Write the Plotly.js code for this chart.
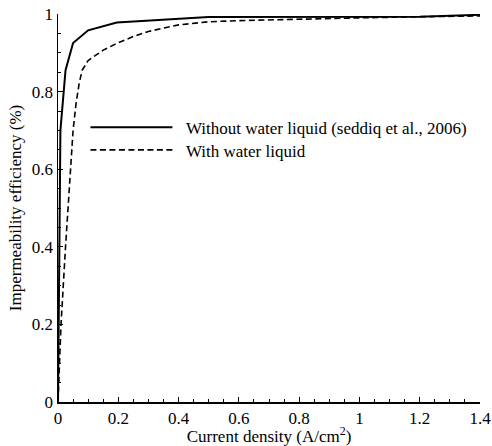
<!DOCTYPE html>
<html>
<head>
<meta charset="utf-8">
<script src="https://cdn.plot.ly/plotly-3.0.1.min.js"></script>
<style>html,body{margin:0;padding:0;background:#fff;}#chart{width:492px;height:446px;}</style>
</head>
<body>
<div id="chart"></div>
<script>
var seriesNames = ["Without water liquid (seddiq et al., 2006)", "With water liquid"];
var xWithout = [0, 0.008, 0.025, 0.05, 0.1, 0.195, 0.5, 1.2, 1.4];
var yWithout = [0, 0.70, 0.855, 0.925, 0.958, 0.978, 0.992, 0.993, 0.998];
var xWith = [0, 0.01, 0.025, 0.04, 0.05, 0.06, 0.07, 0.08, 0.1, 0.15, 0.2, 0.25, 0.3, 0.4, 0.5, 0.6, 0.8, 1.0, 1.2, 1.4];
var yWith = [0, 0.2, 0.4, 0.6, 0.70, 0.77, 0.82, 0.855, 0.88, 0.907, 0.926, 0.942, 0.955, 0.972, 0.98, 0.983, 0.987, 0.99, 0.993, 0.995];
var xTickVals = [0, 0.2, 0.4, 0.6, 0.8, 1, 1.2, 1.4];
var xTickText = ["0", "0.2", "0.4", "0.6", "0.8", "1", "1.2", "1.4"];
var yTickVals = [0, 0.2, 0.4, 0.6, 0.8, 1];
var yTickText = ["0", "0.2", "0.4", "0.6", "0.8", "1"];

var font = {family: "'Liberation Serif', 'Times New Roman', serif", size: 17, color: "#000"};
var traces = [
  {x: xWithout, y: yWithout, mode: "lines", name: "\u2002" + seriesNames[0], legend: "legend",
   line: {color: "#000", width: 2, dash: "solid"}},
  {x: xWith, y: yWith, mode: "lines", name: "\u2002" + seriesNames[1], legend: "legend2",
   line: {color: "#000", width: 1.6, dash: "6px,3.5px"}}
];
var axisCommon = {
  showgrid: false, zeroline: false, showline: true, linecolor: "#000", linewidth: 1.5,
  ticks: "inside", ticklen: 5, tickwidth: 1, tickcolor: "#000", tickfont: font,
  minor: {ticks: "inside", ticklen: 3, tickwidth: 1, tickcolor: "#000", dtick: 0.05}
};
var legendCommon = {xanchor: "left", yanchor: "top", bgcolor: "rgba(0,0,0,0)", font: font, itemwidth: 82};
var layout = {
  width: 492, height: 446,
  margin: {l: 58, r: 12, t: 14, b: 44},
  paper_bgcolor: "#fff", plot_bgcolor: "#fff",
  font: font,
  showlegend: true,
  legend: Object.assign({}, legendCommon, {x: 0.065, y: 0.7534}),
  legend2: Object.assign({}, legendCommon, {x: 0.065, y: 0.695}),
  xaxis: Object.assign({}, axisCommon, {range: [0, 1.4], tickvals: xTickVals, ticktext: xTickText,
    title: {text: "Current density (A/cm<sup>2</sup>)", font: font, standoff: 2}}),
  yaxis: Object.assign({}, axisCommon, {range: [0, 1], tickvals: yTickVals, ticktext: yTickText,
    title: {text: "Impermeability efficiency (%)", font: font, standoff: 6}})
};
Plotly.newPlot("chart", traces, layout, {staticPlot: true, displayModeBar: false});
</script>
</body>
</html>
